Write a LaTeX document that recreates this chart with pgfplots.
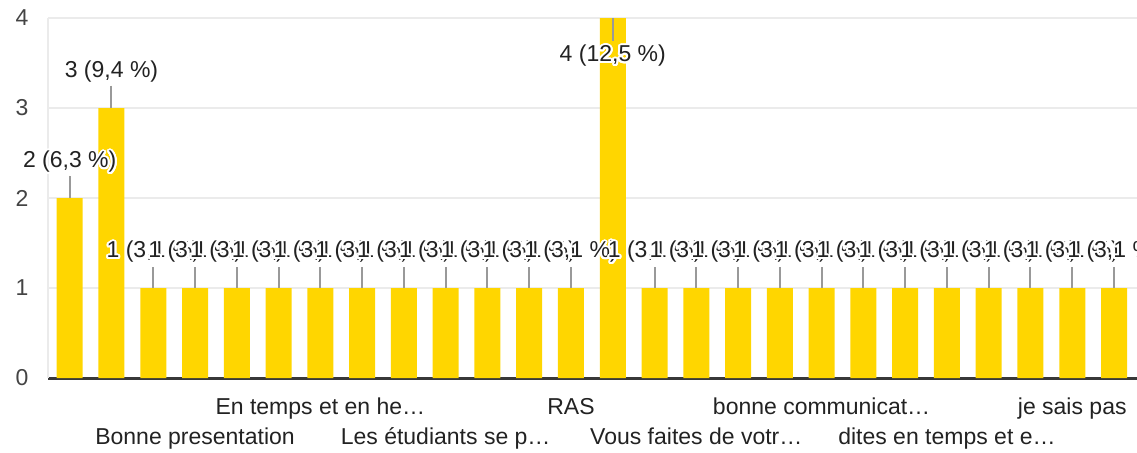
\documentclass[border=0pt]{standalone}
\usepackage{pgfplots}
\pgfplotsset{compat=1.18}
\usepackage{pgfplotstable}
\usepackage{fontspec}
\setmainfont{Liberation Sans}
\usepackage[copies]{contour}
\contourlength{2pt}
\contournumber{24}
\definecolor{barc}{HTML}{FFD600}
\definecolor{gridc}{HTML}{EBEBEB}
\definecolor{txt}{HTML}{222222}
\definecolor{tickc}{HTML}{444444}
\definecolor{lead}{HTML}{999999}
\newcommand\lblfont{\fontsize{23}{26}\selectfont}
\newcommand\lbl[2]{\contour{white}{#1 (#2 \%)}}

\pgfplotstableread{
x y pct ep em off
0 2 6,3 0.25 0 35
1 3 9,4 0.25 0 35
2 1 3,1 0.23 0 35
3 1 3,1 0.23 0 35
4 1 3,1 0.23 0 35
5 1 3,1 0.23 0 35
6 1 3,1 0.23 0 35
7 1 3,1 0.23 0 35
8 1 3,1 0.23 0 35
9 1 3,1 0.23 0 35
10 1 3,1 0.23 0 35
11 1 3,1 0.23 0 35
12 1 3,1 0.23 0 35
13 4 12,5 0 0.26 -39
14 1 3,1 0.23 0 35
15 1 3,1 0.23 0 35
16 1 3,1 0.23 0 35
17 1 3,1 0.23 0 35
18 1 3,1 0.23 0 35
19 1 3,1 0.23 0 35
20 1 3,1 0.23 0 35
21 1 3,1 0.23 0 35
22 1 3,1 0.23 0 35
23 1 3,1 0.23 0 35
24 1 3,1 0.23 0 35
25 1 3,1 0.23 0 35
}\datatab

\begin{document}
\begin{tikzpicture}
\begin{axis}[
  scale only axis, width=1089pt, height=360pt,
  xmin=-0.52, xmax=25.55, ymin=0, ymax=4,
  ybar, bar width=26pt,
  ytick={0,1,2,3,4},
  ymajorgrids, grid style={gridc, line width=2pt},
  axis lines*=left,
  x axis line style={draw=txt!90!white, line width=3pt},
  y axis line style={draw=gridc, line width=2pt},
  major tick length=0pt,
  xtick={3,9,15,21},
  xticklabels={Bonne presentation, Les étudiants se p…, Vous faites de votr…, dites en temps et e…},
  extra x ticks={6,12,18,24},
  extra x tick labels={En temps et en he…, RAS, bonne communicat…, je sais pas},
  extra x tick style={grid=none, xticklabel style={yshift=30pt}},
  xticklabel style={anchor=base, yshift=-66pt, font=\lblfont, text=txt},
  yticklabel style={font=\lblfont, text=tickc, xshift=-16pt},
  /pgf/number format/assume math mode=true,
  clip=false,
]
\addplot[fill=barc, draw=none,
  point meta=explicit symbolic,
  visualization depends on={y \as \yv},
  visualization depends on={\thisrow{off} \as \off},
  nodes near coords={\lbl{\pgfmathprintnumber[fixed,precision=0]{\yv}}{\pgfplotspointmeta}},
  every node near coord/.append style={anchor=center, yshift={\off*1pt}, font=\lblfont, text=txt, inner sep=0pt},
  error bars/.cd, y dir=both, y explicit, error mark=none,
  error bar style={draw=lead, line width=2pt}]
  table[x=x, y=y, meta=pct, y error plus=ep, y error minus=em]{\datatab};
\coordinate (bl) at (rel axis cs:0,0);
\coordinate (tr) at (rel axis cs:1,1);
\end{axis}
\pgfresetboundingbox
\path[use as bounding box] ([xshift=-48pt,yshift=-75pt]bl) rectangle ([yshift=18pt]tr);
\end{tikzpicture}
\end{document}
